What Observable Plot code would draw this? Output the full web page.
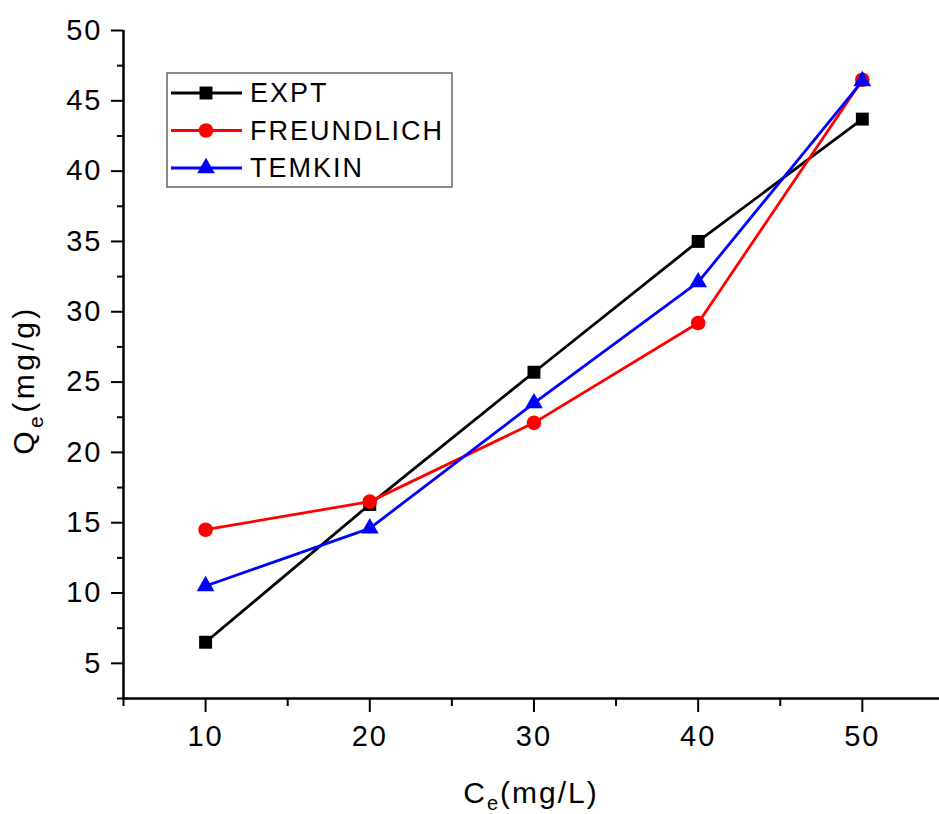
<!DOCTYPE html>
<html>
<head>
<meta charset="utf-8">
<script src="https://cdn.jsdelivr.net/npm/d3@7"></script>
<script src="https://cdn.jsdelivr.net/npm/@observablehq/plot@0.6"></script>
<style>
  html, body { margin: 0; padding: 0; background: #fff; }
  #chart svg text { letter-spacing: 2px; }
</style>
</head>
<body>
<div id="chart"></div>
<script>
// ---- data ----
const ce = [10, 20, 30, 40, 50];
const expt = [6.5, 16.3, 25.7, 35.0, 43.7];
const freundlich = [14.5, 16.5, 22.1, 29.2, 46.5];
const temkin = [10.5, 14.6, 23.5, 32.1, 46.4];
const seriesNames = ["EXPT", "FREUNDLICH", "TEMKIN"];
const seriesColors = ["#000000", "#ff0000", "#0000ff"];
const seriesSymbols = ["square", "circle", "triangle"];
const xMajor = [10, 20, 30, 40, 50];
const xMinor = [5, 15, 25, 35, 45];
const yMajor = [5, 10, 15, 20, 25, 30, 35, 40, 45, 50];
const yMinor = [2.5, 7.5, 12.5, 17.5, 22.5, 27.5, 32.5, 37.5, 42.5, 47.5];

const seriesValues = [expt, freundlich, temkin];
const rows = [];
seriesNames.forEach((s, i) => ce.forEach((x, j) => rows.push({series: s, x, y: seriesValues[i][j]})));
const symR = {square: 7.3, circle: 7.3, triangle: 6.6};

const marks = [];
// axes
marks.push(Plot.axisY({ticks: yMajor, tickSize: 12, tickPadding: 9, strokeWidth: 2, fontSize: 29, tickFormat: d => String(d), label: null}));
marks.push(Plot.axisY({ticks: yMinor, tickSize: 6, strokeWidth: 2, tickFormat: () => "", label: null}));
marks.push(Plot.axisX({ticks: xMajor, tickSize: 14, tickPadding: 13, strokeWidth: 2, fontSize: 29, tickFormat: d => String(d), label: null}));
marks.push(Plot.axisX({ticks: xMinor, tickSize: 8, strokeWidth: 2, tickFormat: () => "", label: null}));
marks.push(Plot.ruleX([5], {strokeWidth: 2.5}));
marks.push(Plot.ruleY([2.5], {strokeWidth: 2.5}));
// lines
seriesNames.forEach((s, i) => {
  marks.push(Plot.line(rows.filter(d => d.series === s), {x: "x", y: "y", stroke: seriesColors[i], strokeWidth: 2.8}));
});
seriesNames.forEach((s, i) => {
  marks.push(Plot.dot(rows.filter(d => d.series === s), {x: "x", y: "y", fill: seriesColors[i], stroke: "none", symbol: () => seriesSymbols[i], r: symR[seriesSymbols[i]]}));
});

const plot = Plot.plot({
  width: 939,
  height: 814,
  marginLeft: 123,
  marginRight: 0,
  marginTop: 30,
  marginBottom: 116,
  x: {domain: [5, 54.7], label: null},
  y: {domain: [2.5, 50], label: null},
  symbol: {type: "identity"},
  style: {fontFamily: "'Liberation Sans', Arial, sans-serif", fontSize: "29px", color: "#000", background: "#fff"},
  marks
});
document.getElementById("chart").appendChild(plot);

const svg = d3.select(plot);
svg.selectAll("text").style("font-size", "29px");

// axis labels
const xl = svg.append("text").attr("x", 531).attr("y", 803).attr("text-anchor", "middle")
  .style("font-size", "30px").attr("fill", "#000");
xl.append("tspan").text("C");
xl.append("tspan").style("font-size", "20px").attr("dy", 7).text("e");
xl.append("tspan").attr("dy", -7).text("(mg/L)");

const yl = svg.append("text").attr("transform", "translate(34,380) rotate(-90)").attr("text-anchor", "middle")
  .style("font-size", "30px").style("letter-spacing", "3.5px").attr("fill", "#000");
yl.append("tspan").text("Q");
yl.append("tspan").style("font-size", "21px").attr("dy", 9).text("e");
yl.append("tspan").attr("dy", -9).text("(mg/g)");

// legend
const lg = svg.append("g");
lg.append("rect").attr("x", 167).attr("y", 73).attr("width", 285).attr("height", 114)
  .attr("fill", "#fff").attr("stroke", "#666").attr("stroke-width", 1.5);
const symMap = {square: d3.symbolSquare, circle: d3.symbolCircle, triangle: d3.symbolTriangle};
seriesNames.forEach((s, i) => {
  const y = 93 + i * 37.5;
  lg.append("line").attr("x1", 171).attr("x2", 242).attr("y1", y).attr("y2", y)
    .attr("stroke", seriesColors[i]).attr("stroke-width", 2.8);
  const r = symR[seriesSymbols[i]];
  lg.append("path").attr("transform", `translate(206,${y})`)
    .attr("d", d3.symbol(symMap[seriesSymbols[i]], Math.PI * r * r)())
    .attr("fill", seriesColors[i]);
  lg.append("text").attr("x", 250).attr("y", y).attr("dy", "0.35em").attr("text-anchor", "start")
    .style("font-size", "27px").attr("fill", "#000").text(s);
});
</script>
</body>
</html>
